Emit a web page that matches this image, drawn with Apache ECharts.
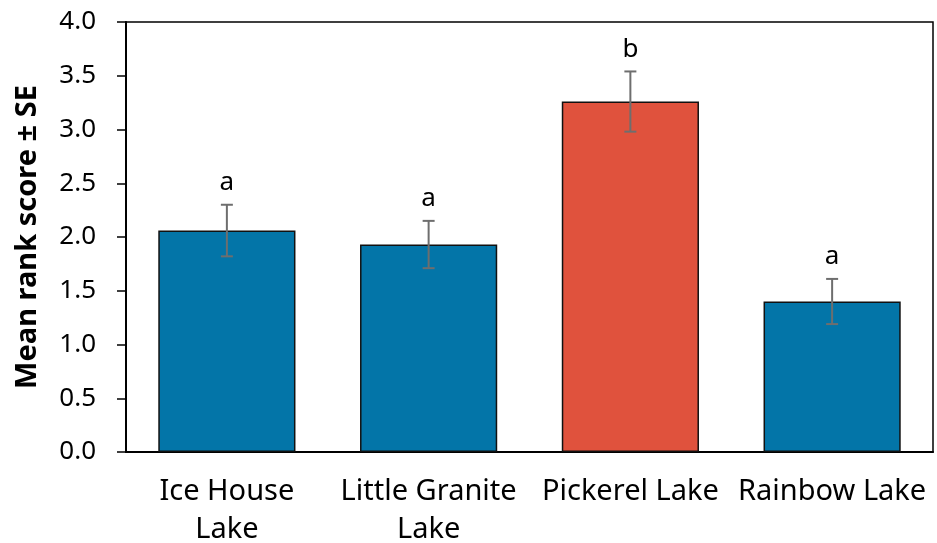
<!DOCTYPE html>
<html>
<head>
<meta charset="utf-8">
<script src="https://cdn.jsdelivr.net/npm/echarts@6/dist/echarts.min.js"></script>
<style>
  html, body { margin: 0; padding: 0; background: #fff; }
  #chart { width: 937px; height: 543px; }
</style>
</head>
<body>
<div id="chart"></div>
<script>
// Lakes compared on mean rank score, with standard errors and group letters
const lakes = ['Ice House\nLake', 'Little Granite\nLake', 'Pickerel Lake', 'Rainbow Lake'];
const meanScore = [2.06, 1.93, 3.26, 1.40];
const stdError = [0.24, 0.22, 0.28, 0.21];
const groupLetter = ['a', 'a', 'b', 'a'];
const barColors = ['#0375A8', '#0375A8', '#E0523D', '#0375A8'];
const yTicks = { min: 0, max: 4, step: 0.5 };

const FONT = '"Noto Sans", "Open Sans", sans-serif';

const chart = echarts.init(document.getElementById('chart'), null, { renderer: 'canvas' });

chart.setOption({
  animation: false,
  backgroundColor: '#fff',
  grid: {
    left: 126, right: 4, top: 22, bottom: 91,
    outerBoundsMode: 'none',
    containLabel: false,
    show: true, borderColor: '#000', borderWidth: 1.5, backgroundColor: 'transparent'
  },
  xAxis: {
    type: 'category',
    data: lakes,
    axisLine: { lineStyle: { color: '#000', width: 2 } },
    axisTick: { show: false },
    axisLabel: {
      color: '#000', fontFamily: FONT, fontSize: 29, lineHeight: 38,
      margin: 21, interval: 0
    }
  },
  yAxis: {
    type: 'value',
    min: yTicks.min, max: yTicks.max, interval: yTicks.step,
    name: 'Mean rank score ± SE',
    nameLocation: 'middle',
    nameGap: 84,
    nameTextStyle: { color: '#000', fontFamily: FONT, fontSize: 29, fontWeight: 'bold' },
    axisLine: { show: true, lineStyle: { color: '#000', width: 2 } },
    axisTick: { show: true, inside: false, length: 9, lineStyle: { color: '#000', width: 1.5 } },
    splitLine: { show: false },
    axisLabel: {
      color: '#000', fontFamily: FONT, fontSize: 26, margin: 30,
      formatter: v => v.toFixed(1)
    }
  },
  series: [
    {
      type: 'bar',
      data: meanScore.map((v, i) => ({
        value: v,
        itemStyle: { color: barColors[i] }
      })),
      barWidth: '68%',
      itemStyle: { borderColor: '#111', borderWidth: 1.5 }
    },
    {
      type: 'custom',
      data: meanScore.map((v, i) => [i, v, stdError[i], groupLetter[i]]),
      z: 5,
      renderItem: function (params, api) {
        const i = api.value(0);
        const m = api.value(1);
        const se = api.value(2);
        const top = api.coord([i, m + se]);
        const bot = api.coord([i, m - se]);
        const cap = 6;
        const style = { stroke: '#6E6E6E', lineWidth: 2 };
        return {
          type: 'group',
          children: [
            { type: 'line', shape: { x1: top[0], y1: top[1], x2: bot[0], y2: bot[1] }, style },
            { type: 'line', shape: { x1: top[0] - cap, y1: top[1], x2: top[0] + cap, y2: top[1] }, style },
            { type: 'line', shape: { x1: bot[0] - cap, y1: bot[1], x2: bot[0] + cap, y2: bot[1] }, style },
            {
              type: 'text',
              style: {
                text: groupLetter[params.dataIndex],
                x: top[0], y: top[1] - 9,
                textAlign: 'center', textVerticalAlign: 'bottom',
                fill: '#000', font: '26px ' + FONT
              }
            }
          ]
        };
      }
    }
  ]
});
</script>
</body>
</html>
